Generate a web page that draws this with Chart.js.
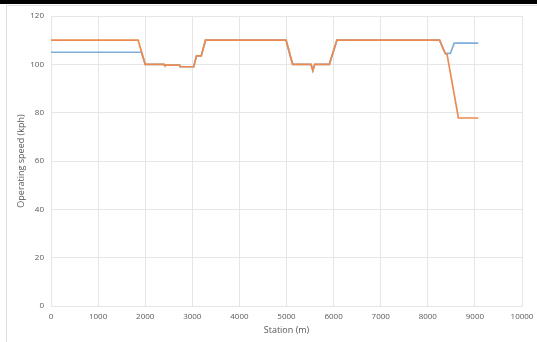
<!DOCTYPE html>
<html>
<head>
<meta charset="utf-8">
<script src="https://cdn.jsdelivr.net/npm/chart.js@4.4.1/dist/chart.umd.min.js"></script>
<style>
  html, body { margin: 0; padding: 0; background: #fff; }
  #wrap { position: relative; width: 537px; height: 342px; }
  canvas { display: block; }
</style>
</head>
<body>
<div id="wrap"><canvas id="c" width="537" height="342"></canvas></div>
<script>
// Design speed profile (blue) along the alignment
const blueStations = [0, 1920, 2000, 2400, 2410, 2730, 2740, 3030, 3090, 3190, 3280, 4990, 5130, 5520, 5560, 5600, 5910, 6070, 8250, 8370, 8480, 8560, 9070];
const blueSpeeds   = [105, 105, 100, 100, 99.7, 99.7, 99, 99, 103.5, 103.5, 110, 110, 100, 100, 97.4, 100, 100, 110, 110, 104.5, 104.5, 108.8, 108.8];

// Operating speed profile (orange) along the alignment
const orangeStations = [0, 1850, 2000, 2400, 2410, 2730, 2740, 3030, 3090, 3190, 3280, 4990, 5130, 5520, 5560, 5600, 5910, 6070, 8250, 8370, 8410, 8650, 9070];
const orangeSpeeds   = [110, 110, 100, 100, 99.7, 99.7, 99, 99, 103.5, 103.5, 110, 110, 100, 100, 97.4, 100, 100, 110, 110, 104.5, 104, 77.8, 77.8];

const xTicks = [0, 1000, 2000, 3000, 4000, 5000, 6000, 7000, 8000, 9000, 10000];
const yTicks = [0, 20, 40, 60, 80, 100, 120];

const toPoints = (xs, ys) => xs.map((x, i) => ({ x: x, y: ys[i] }));

const TEXT = '#595959';
const GRID = '#e6e6e6';
const FONT = 'Open Sans';

// Outer frame: dark strip along the top and thin grey edges
const framePlugin = {
  id: 'frame',
  beforeDraw(chart) {
    const ctx = chart.ctx;
    ctx.save();
    ctx.fillStyle = '#fff';
    ctx.fillRect(0, 0, chart.width, chart.height);
    ctx.fillStyle = '#000';
    ctx.fillRect(0, 0, chart.width, 4);
    ctx.strokeStyle = '#e0e0e0';
    ctx.lineWidth = 1;
    ctx.beginPath();
    ctx.moveTo(6.5, 5);
    ctx.lineTo(6.5, chart.height);
    ctx.moveTo(6.5, 5.5);
    ctx.lineTo(chart.width, 5.5);
    ctx.stroke();
    ctx.restore();
  }
};

new Chart(document.getElementById('c'), {
  type: 'line',
  data: {
    datasets: [
      {
        label: 'Design speed',
        data: toPoints(blueStations, blueSpeeds),
        borderColor: '#7FAEDB',
        borderWidth: 1.7,
        pointRadius: 0,
        tension: 0,
        fill: false,
        order: 2
      },
      {
        label: 'Operating speed',
        data: toPoints(orangeStations, orangeSpeeds),
        borderColor: '#EE8A4E',
        borderWidth: 1.7,
        pointRadius: 0,
        tension: 0,
        fill: false,
        order: 1
      }
    ]
  },
  options: {
    responsive: false,
    animation: false,
    devicePixelRatio: 1,
    layout: { padding: { left: 0, top: 16, right: 15, bottom: 0 } },
    plugins: {
      legend: { display: false },
      tooltip: { enabled: false }
    },
    scales: {
      x: {
        type: 'linear',
        min: 0,
        max: 10000,
        afterBuildTicks(scale) { scale.ticks = xTicks.map(v => ({ value: v })); },
        afterFit(scale) {
          scale.height = 36;
          scale.paddingLeft = 0;
          scale.paddingRight = 0;
        },
        grid: { color: GRID, drawTicks: false },
        border: { color: GRID },
        ticks: {
          color: TEXT,
          font: { family: FONT, size: 8 },
          padding: 6,
          maxRotation: 0,
          callback: v => String(v)
        },
        title: {
          display: true,
          text: 'Station (m)',
          color: TEXT,
          font: { family: FONT, size: 9 },
          padding: { top: 0, bottom: 6 }
        }
      },
      y: {
        min: 0,
        max: 120,
        afterBuildTicks(scale) { scale.ticks = yTicks.map(v => ({ value: v })); },
        afterFit(scale) {
          scale.width = 51;
          scale.paddingTop = 0;
          scale.paddingBottom = 0;
        },
        grid: { color: GRID, drawTicks: false },
        border: { color: GRID },
        ticks: {
          color: TEXT,
          font: { family: FONT, size: 8 },
          padding: 7,
          callback: v => String(v)
        },
        title: {
          display: true,
          text: 'Operating speed (kph)',
          color: TEXT,
          font: { family: FONT, size: 9 },
          padding: { top: 16, bottom: 0 }
        }
      }
    }
  },
  plugins: [framePlugin]
});
</script>
</body>
</html>
